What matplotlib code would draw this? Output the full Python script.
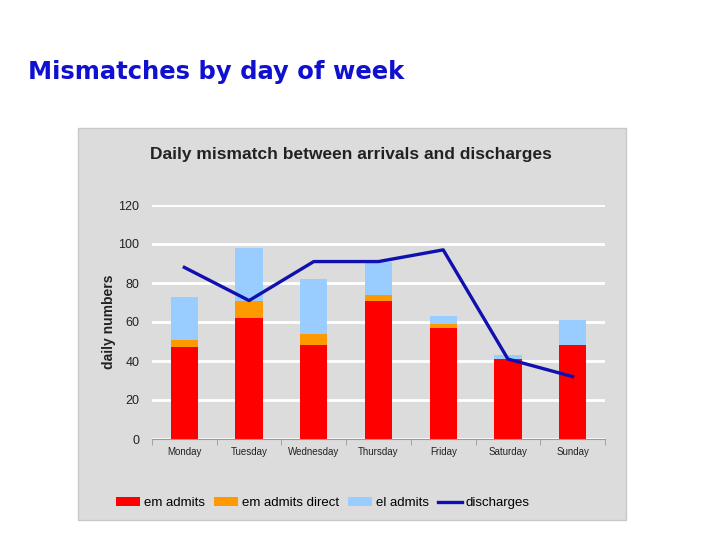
import matplotlib
matplotlib.use("Agg")
import matplotlib.pyplot as plt
from matplotlib.patches import Rectangle
import numpy as np

days = ["Monday", "Tuesday", "Wednesday", "Thursday", "Friday", "Saturday", "Sunday"]
em_admits = [47, 62, 48, 71, 57, 41, 48]
em_admits_direct = [4, 9, 6, 3, 2, 0, 0]
el_admits = [22, 27, 28, 17, 4, 2, 13]
discharges = [88, 71, 91, 91, 97, 41, 32]
yticks = [0, 20, 40, 60, 80, 100, 120]

fig = plt.figure(figsize=(7.2, 5.4), dpi=100)
fig.patch.set_facecolor("white")

# chart panel
panel = Rectangle((78/720, 1-520/540), (626-78)/720, (520-128)/540,
                  transform=fig.transFigure, facecolor="#dcdcdc",
                  edgecolor="#c8c8c8", linewidth=1, zorder=-5)
fig.patches.append(panel)

fig.text(28/720, 1-72/540, "Mismatches by day of week", color="#1010d0",
         fontsize=17.5, fontweight="bold", family="DejaVu Sans", va="center", ha="left")

fig.text(351/720, 1-155/540, "Daily mismatch between arrivals and discharges",
         fontsize=12.5, fontweight="bold", color="#222222", ha="center", va="center",
         family="Liberation Sans")

ax = fig.add_axes([152/720, 1-439/540, (605-152)/720, (439-205)/540])
ax.set_zorder(2)
ax.set_facecolor("#dcdcdc")
x = np.arange(len(days))
w = 0.42
em = np.array(em_admits)
ed = np.array(em_admits_direct)
el = np.array(el_admits)
b1 = ax.bar(x, em, w, color="#ff0000", zorder=3, label="em admits")
b2 = ax.bar(x, ed, w, bottom=em, color="#ff9900", zorder=3, label="em admits direct")
b3 = ax.bar(x, el, w, bottom=em+ed, color="#99ccff", zorder=3, label="el admits")
l1, = ax.plot(x, discharges, color="#1010b0", linewidth=2.4, zorder=4, label="discharges")

ax.set_xlim(-0.5, len(days)-0.5)
ax.set_ylim(0, 120)
ax.set_yticks(yticks)
ax.yaxis.grid(True, color="white", linewidth=2, zorder=1)
ax.set_axisbelow(True)
for s in ["top", "right", "left"]:
    ax.spines[s].set_visible(False)
ax.spines["bottom"].set_color("#999999")
ax.spines["bottom"].set_zorder(5)
ax.tick_params(axis="y", length=0, labelsize=9, labelcolor="#222222", pad=9)
ax.set_xticks(x)
ax.set_xticklabels(days, fontsize=7, family="Liberation Sans", color="#222222")
ax.tick_params(axis="x", length=0, pad=6)
ax.set_xticks(np.arange(len(days)+1)-0.5, minor=True)
ax.tick_params(axis="x", which="minor", length=4, color="#999999")
for lab in ax.get_yticklabels():
    lab.set_family("Liberation Sans")
ax.set_ylabel("daily numbers", fontsize=10, fontweight="bold", family="Liberation Sans",
              labelpad=2, color="#222222")

fig.legend(handles=[b1, b2, b3, l1], loc="center", bbox_to_anchor=(323/720, 1-503/540),
           ncol=4, frameon=False, handlelength=1.8, handletextpad=0.3,
           columnspacing=0.7, prop={"family": "Liberation Sans", "size": 9.5})

fig.savefig("out.png", dpi=100, facecolor="white")
